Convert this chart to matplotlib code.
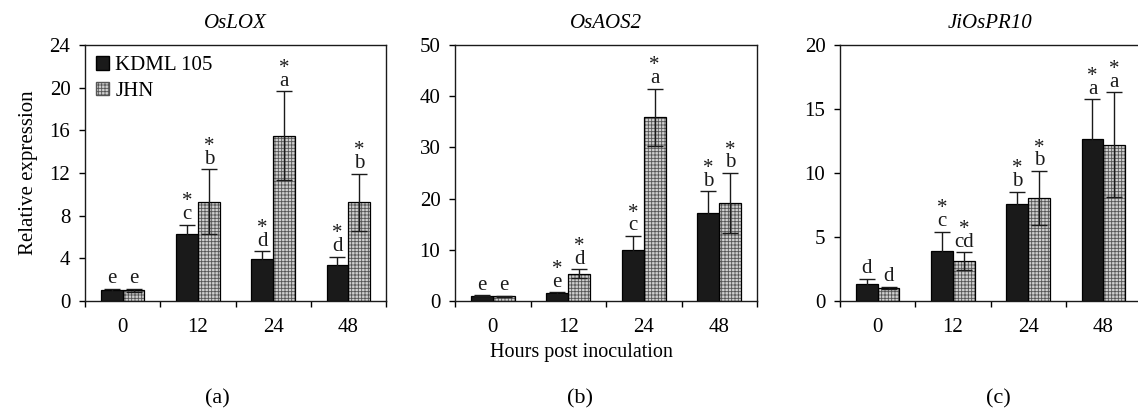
import numpy as np
import matplotlib
matplotlib.use("Agg")
import matplotlib.pyplot as plt
from matplotlib.patches import Patch

plt.rcParams['font.family'] = ['Liberation Serif', 'DejaVu Serif']
plt.rcParams['hatch.linewidth'] = 0.6
plt.rcParams['hatch.color'] = '#555555'

# ------------------------------------------------------------
# data
# ------------------------------------------------------------
hours = ['0', '12', '24', '48']
genes = ['OsLOX', 'OsAOS2', 'JiOsPR10']
panel_tags = ['(a)', '(b)', '(c)']

kdml_mean = [[1.0, 6.3, 3.95, 3.4],
             [1.0, 1.5, 10.0, 17.2],
             [1.3, 3.9, 7.55, 12.65]]
kdml_err = [[0.15, 0.85, 0.7, 0.75],
            [0.1, 0.2, 2.7, 4.2],
            [0.45, 1.5, 1.0, 3.1]]
jhn_mean = [[1.0, 9.3, 15.5, 9.25],
            [0.9, 5.3, 35.9, 19.1],
            [1.0, 3.1, 8.05, 12.2]]
jhn_err = [[0.15, 3.05, 4.15, 2.7],
           [0.1, 0.9, 5.6, 5.9],
           [0.1, 0.7, 2.1, 4.1]]

kdml_letter = [['e', 'c', 'd', 'd'],
               ['e', 'e', 'c', 'b'],
               ['d', 'c', 'b', 'a']]
jhn_letter = [['e', 'b', 'a', 'b'],
              ['e', 'd', 'a', 'b'],
              ['d', 'cd', 'b', 'a']]
kdml_star = [[False, True, True, True],
             [False, True, True, True],
             [False, True, True, True]]
jhn_star = [[False, True, True, True],
            [False, True, True, True],
            [False, True, True, True]]

ymax = [24, 50, 20]
ystep = [4, 10, 5]

# ------------------------------------------------------------
# layout (pixel boxes of the original)
# ------------------------------------------------------------
W, H = 1138, 413
fig = plt.figure(figsize=(W / 100, H / 100), dpi=100)
boxes = [(85, 386), (455, 757), (840, 1141)]
top_px, bot_px = 45, 301

x = np.arange(len(hours))
bw = 0.29
off = 0.145
fs = 15

for i in range(3):
    l, r = boxes[i]
    ax = fig.add_axes([l / W, 1 - bot_px / H, (r - l) / W, (bot_px - top_px) / H])

    # JHN: hatched grey, then black outline
    ax.bar(x + off, jhn_mean[i], bw, color='#cfcfcf', hatch='+++++',
           edgecolor='#555555', linewidth=0, zorder=2)
    ax.bar(x + off, jhn_mean[i], bw, facecolor='none', edgecolor='black',
           linewidth=0.9, zorder=3)
    ax.bar(x - off, kdml_mean[i], bw, color='#1a1a1a', edgecolor='black',
           linewidth=0.9, zorder=3)

    ax.errorbar(x - off, kdml_mean[i], yerr=kdml_err[i], fmt='none',
                ecolor='#1a1a1a', elinewidth=1.0, capsize=6, capthick=1.0, zorder=4)
    ax.errorbar(x + off, jhn_mean[i], yerr=jhn_err[i], fmt='none',
                ecolor='#1a1a1a', elinewidth=1.0, capsize=6, capthick=1.0, zorder=4)

    # significance letters, asterisk stacked on top
    for j in range(len(hours)):
        for xc, m, e, let, st in [(x[j] - off, kdml_mean[i][j], kdml_err[i][j],
                                   kdml_letter[i][j], kdml_star[i][j]),
                                  (x[j] + off, jhn_mean[i][j], jhn_err[i][j],
                                   jhn_letter[i][j], jhn_star[i][j])]:
            txt = '*\n' + let if st else let
            ax.annotate(txt, (xc, m + e), xytext=(0, 0.5), textcoords='offset points',
                        ha='center', va='bottom', fontsize=fs, color='#1a1a1a',
                        linespacing=0.55, multialignment='center')

    ax.set_xlim(-0.5, len(hours) - 0.5)
    ax.set_ylim(0, ymax[i])
    ax.set_yticks(np.arange(0, ymax[i] + 0.1, ystep[i]))
    ax.set_xticks(x)
    ax.set_xticklabels(hours)
    ax.set_xticks(np.arange(-0.5, len(hours), 1.0), minor=True)
    ax.tick_params(axis='x', which='major', length=0, pad=12.5, labelsize=fs)
    ax.tick_params(axis='x', which='minor', length=4.5, width=1.0, direction='out')
    ax.tick_params(axis='y', which='major', length=4.5, width=1.0, direction='out',
                   pad=6, labelsize=fs)
    for s in ax.spines.values():
        s.set_linewidth(1.0)
        s.set_color('#1a1a1a')

    ax.set_title(genes[i], fontstyle='italic', fontsize=15, pad=12)

    if i == 0:
        ax.set_ylabel('Relative expression', fontsize=15, labelpad=8)
        handles = [Patch(facecolor='#1a1a1a', edgecolor='black', label='KDML 105'),
                   Patch(facecolor='#cfcfcf', edgecolor='#555555', hatch='+++++', label='JHN')]
        ax.legend(handles=handles, loc='upper left', frameon=False, fontsize=15,
                  handlelength=0.6, handleheight=0.6, handletextpad=0.3,
                  borderaxespad=0.15, labelspacing=0.3)

fig.text(581 / W, 1 - 352 / H, 'Hours post inoculation', ha='center', va='center',
         fontsize=14.5)
for tag, xp in zip(panel_tags, [217, 580, 998]):
    fig.text(xp / W, 1 - 399 / H, tag, ha='center', va='center', fontsize=16)

fig.savefig('out.png', dpi=100)
